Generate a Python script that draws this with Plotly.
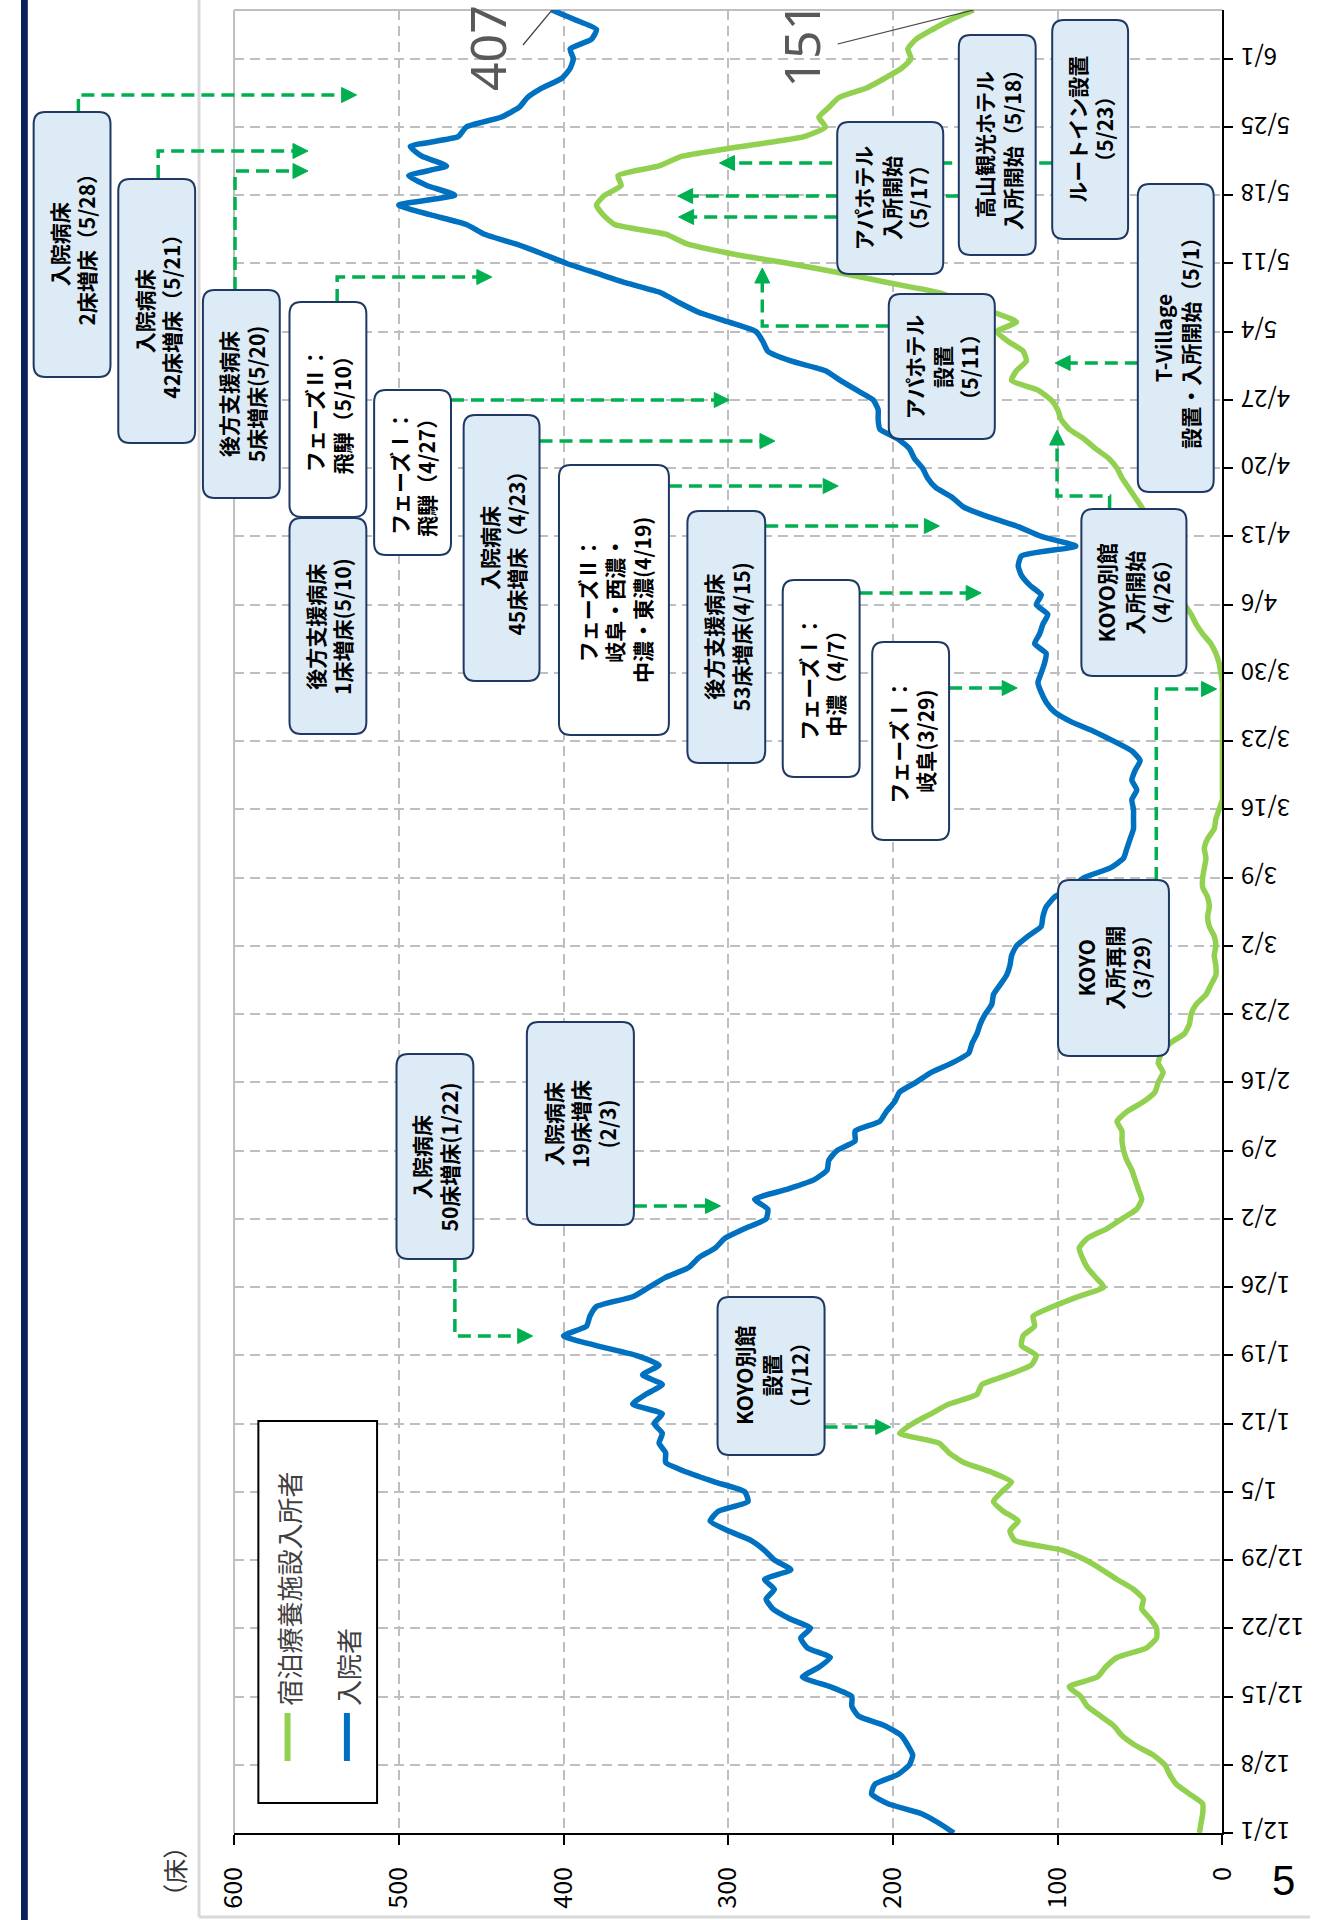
import pandas as pd
import plotly.graph_objects as go

W, H = 1325, 1920

# ---------------- data ----------------
start_date = "2020-12-01"
end_date = "2021-06-06"
dates = pd.date_range(start_date, end_date, freq="D")

# 入院者 (daily, 12/1 .. 6/6)
inpatients = [
    163, 172, 183, 203, 213, 211, 197, 190, 188, 191,
    195, 205, 221, 225, 225, 238, 255, 245, 238, 252,
    256, 250, 263, 273, 277, 272, 278, 262, 272, 278,
    286, 300, 311, 306, 288, 290, 308, 325, 338, 338,
    342, 340, 345, 340, 358, 350, 340, 352, 342, 356,
    380, 400, 386, 384, 380, 358, 348, 338, 324, 318,
    308, 302, 290, 277, 276, 284, 265, 248, 240, 239,
    234, 223, 223, 208, 204, 199, 196, 186, 177, 164,
    154, 152, 149, 147, 144, 140, 139, 135, 131, 129,
    128, 125, 118, 110, 109, 107, 102, 92, 84, 68,
    60, 58, 56, 54, 54, 54, 55, 52, 55, 53,
    50, 55, 66, 78, 92, 102, 107, 110, 112, 110,
    108, 107, 114, 111, 109, 106, 113, 110, 117, 122,
    124, 122, 89, 110, 124, 142, 157, 164, 174, 179,
    182, 187, 190, 197, 208, 209, 209, 212, 222, 232,
    241, 262, 276, 279, 283, 300, 318, 330, 341, 362,
    380, 398, 413, 429, 448, 459, 481, 500, 466, 483,
    494, 471, 486, 493, 464, 459, 438, 427, 422, 413,
    401, 396, 394, 396, 383, 380, 393, 407,
]

# 宿泊療養施設入所者 (daily, 12/1 .. 6/6)
lodging = [
    14, 13, 12, 12, 20, 28, 32, 35, 42, 53,
    61, 66, 74, 82, 86, 93, 76, 71, 64, 46,
    40, 40, 44, 49, 48, 54, 64, 73, 83, 97,
    126, 129, 124, 133, 139, 134, 128, 140, 157, 166,
    172, 196, 188, 177, 166, 149, 146, 130, 116, 113,
    122, 121, 114, 115, 103, 88, 72, 77, 82, 85,
    87, 82, 70, 61, 52, 49, 51, 53, 55, 58,
    60, 61, 61, 64, 58, 48, 41, 39, 36, 39,
    37, 32, 23, 20, 19, 16, 10, 7, 4, 4,
    5, 4, 5, 8, 9, 8, 9, 12, 12, 11,
    10, 11, 9, 5, 4, 2, 0, 0, 0, 0,
    0, 0, 0, 0, 0, 0, 0, 0, 0, 1,
    2, 4, 7, 12, 16, 19, 23, 26, 28, 31,
    34, 35, 37, 40, 43, 46, 49, 53, 57, 61,
    64, 69, 77, 84, 93, 98, 100, 104, 112, 128,
    125, 119, 121, 130, 137, 125, 139, 156, 172, 202,
    231, 263, 298, 325, 338, 369, 376, 380, 375, 365,
    367, 342, 328, 292, 254, 241, 245, 239, 233, 216,
    205, 195, 189, 191, 186, 176, 165, 151,
]

series_names = ["宿泊療養施設入所者", "入院者"]
value_ticks = [0, 100, 200, 300, 400, 500, 600]
date_tick_labels = ["12/1", "12/8", "12/15", "12/22", "12/29", "1/5", "1/12", "1/19",
                    "1/26", "2/2", "2/9", "2/16", "2/23", "3/2", "3/9", "3/16", "3/23",
                    "3/30", "4/6", "4/13", "4/20", "4/27", "5/4", "5/11", "5/18", "5/25", "6/1"]
date_ticks = pd.date_range(start_date, periods=len(date_tick_labels), freq="7D")

# event boxes: text, fill style
event_texts = {
    "A": "入院病床<br>2床増床（5/28）",
    "B": "入院病床<br>42床増床（5/21）",
    "C": "後方支援病床<br>5床増床(5/20)",
    "D": "フェーズⅡ：<br>飛騨（5/10）",
    "E": "後方支援病床<br>1床増床(5/10)",
    "F": "フェーズⅠ：<br>飛騨（4/27）",
    "G": "入院病床<br>45床増床（4/23）",
    "H": "フェーズⅡ：<br>岐阜・西濃・<br>中濃・東濃(4/19)",
    "I": "後方支援病床<br>53床増床(4/15)",
    "J": "フェーズⅠ：<br>中濃（4/7）",
    "K": "フェーズⅠ：<br>岐阜(3/29)",
    "L": "KOYO別館<br>入所開始<br>（4/26）",
    "M": "T-Village<br>設置・入所開始（5/1）",
    "N": "ルートイン設置<br>（5/23）",
    "O": "高山観光ホテル<br>入所開始（5/18）",
    "P": "アパホテル<br>入所開始<br>（5/17）",
    "Q": "アパホテル<br>設置<br>（5/11）",
    "R": "KOYO<br>入所再開<br>（3/29）",
    "S": "入院病床<br>50床増床(1/22)",
    "T": "入院病床<br>19床増床<br>(2/3)",
    "U": "KOYO別館<br>設置<br>（1/12）",
}
white_boxes = {"D", "F", "H", "J", "K"}

# ---------------- layout (pixels -> paper fractions) ----------------
PL, PR, PT, PB = 219, 1235, 10, 1833
FONT = "Noto Sans CJK JP"
GREEN_ARROW = "#00B050"
BLUE = "#0070C0"
LGREEN = "#92D050"
BOX_FILL = "#DDEBF7"
BOX_LINE = "#1F3864"


def px(x):
    return x / W


def py(y):
    return 1 - y / H


box_geom = {
    "A": (13, 112, 92, 377), "B": (100, 179, 179, 443), "C": (187, 290, 266, 498),
    "D": (276, 302, 355, 517), "E": (276, 518, 355, 734), "F": (363, 390, 442, 555),
    "G": (455, 415, 533, 681), "H": (553, 465, 666, 735), "I": (685, 511, 765, 763),
    "J": (783, 580, 862, 777), "K": (875, 642, 954, 840), "L": (1090, 509, 1198, 676),
    "M": (1148, 184, 1226, 492), "N": (1060, 20, 1138, 239), "O": (964, 35, 1043, 255),
    "P": (839, 122, 948, 274), "Q": (892, 294, 1001, 439), "R": (1066, 880, 1180, 1056),
    "S": (386, 1054, 465, 1259), "T": (520, 1022, 630, 1225), "U": (716, 1297, 826, 1455),
}

arrows = [
    ([(59, 112), (59, 95), (345, 95)], "right"),
    ([(141, 178), (141, 151), (295, 151)], "right"),
    ([(220, 290), (220, 171), (295, 171)], "right"),
    ([(325, 302), (325, 277), (484, 277)], "right"),
    ([(442, 400), (728, 400)], "right"),
    ([(533, 441), (775, 441)], "right"),
    ([(666, 486), (840, 486)], "right"),
    ([(765, 526), (944, 526)], "right"),
    ([(862, 593), (987, 593)], "right"),
    ([(954, 688), (1024, 688)], "right"),
    ([(1119, 509), (1119, 496), (1065, 496), (1065, 430)], "up"),
    ([(1148, 363), (1063, 363)], "left"),
    ([(892, 326), (762, 326), (762, 268)], "up"),
    ([(1060, 163), (718, 163)], "left"),
    ([(964, 196), (675, 196)], "left"),
    ([(839, 217), (676, 217)], "left"),
    ([(1167, 880), (1167, 689), (1229, 689)], "right"),
    ([(446, 1259), (446, 1336), (526, 1336)], "right"),
    ([(630, 1206), (719, 1206)], "right"),
    ([(826, 1427), (894, 1427)], "right"),
]

shapes = []
annotations = []

# slide decorations
shapes.append(dict(type="rect", xref="paper", yref="paper", x0=0, x1=px(7), y0=0, y1=1,
                   fillcolor="#0B1F5E", line=dict(width=0), layer="below"))
shapes.append(dict(type="line", xref="paper", yref="paper", x0=px(183), x1=px(183), y0=py(0), y1=py(1917),
                   line=dict(color="#D9D9D9", width=3), layer="below"))
shapes.append(dict(type="line", xref="paper", yref="paper", x0=px(183), x1=1, y0=py(1917), y1=py(1917),
                   line=dict(color="#D9D9D9", width=3), layer="below"))
# plot area border (top / left)
shapes.append(dict(type="line", xref="paper", yref="paper", x0=px(PL), x1=px(PR), y0=py(PT), y1=py(PT),
                   line=dict(color="#BFBFBF", width=2), layer="below"))
shapes.append(dict(type="line", xref="paper", yref="paper", x0=px(PL), x1=px(PL), y0=py(PT), y1=py(PB),
                   line=dict(color="#BFBFBF", width=2), layer="below"))

# arrows
HL, HW = 15, 7.5
for pts, d in arrows:
    lx, ly = pts[-1]
    p2 = list(pts)
    if d == "right":
        p2[-1] = (lx - HL + 2, ly)
        head = f"M 0,0 L {-HL},{HW} L {-HL},{-HW} Z"
    elif d == "left":
        p2[-1] = (lx + HL - 2, ly)
        head = f"M 0,0 L {HL},{HW} L {HL},{-HW} Z"
    else:
        p2[-1] = (lx, ly + HL - 2)
        head = f"M 0,0 L {-HW},{-HL} L {HW},{-HL} Z"
    path = "M " + " L ".join(f"{px(x):.5f},{py(y):.5f}" for x, y in p2)
    shapes.append(dict(type="path", xref="paper", yref="paper", path=path,
                       line=dict(color=GREEN_ARROW, width=3.5, dash="13px,7px"), layer="above"))
    shapes.append(dict(type="path", xref="paper", yref="paper", xsizemode="pixel", ysizemode="pixel",
                       xanchor=px(lx), yanchor=py(ly), path=head, fillcolor=GREEN_ARROW,
                       line=dict(color=GREEN_ARROW, width=1), layer="above"))


def rounded(x0, y0, x1, y1, r=12):
    rx, ry = r / W, r / H
    a, b, c, d = px(x0), px(x1), py(y1), py(y0)   # left, right, bottom, top (paper)
    return (f"M {a + rx:.5f},{d:.5f} L {b - rx:.5f},{d:.5f} Q {b:.5f},{d:.5f} {b:.5f},{d - ry:.5f} "
            f"L {b:.5f},{c + ry:.5f} Q {b:.5f},{c:.5f} {b - rx:.5f},{c:.5f} "
            f"L {a + rx:.5f},{c:.5f} Q {a:.5f},{c:.5f} {a:.5f},{c + ry:.5f} "
            f"L {a:.5f},{d - ry:.5f} Q {a:.5f},{d:.5f} {a + rx:.5f},{d:.5f} Z")


# boxes
for key, (x0, y0, x1, y1) in box_geom.items():
    fill = "white" if key in white_boxes else BOX_FILL
    shapes.append(dict(type="path", xref="paper", yref="paper", path=rounded(x0, y0, x1, y1),
                       fillcolor=fill, line=dict(color=BOX_LINE, width=2), layer="above"))
    annotations.append(dict(xref="paper", yref="paper", x=px((x0 + x1) / 2), y=py((y0 + y1) / 2),
                            text="<b>" + event_texts[key] + "</b>", showarrow=False, textangle=-90,
                            xanchor="center", yanchor="middle", align="center",
                            font=dict(family=FONT, size=21, color="black")))

# legend (drawn manually, rotated)
shapes.append(dict(type="rect", xref="paper", yref="paper", x0=px(244), x1=px(366), y0=py(1803), y1=py(1421),
                   fillcolor="white", line=dict(color="black", width=2), layer="above"))
for xc, col, name in [(274, LGREEN, series_names[0]), (335, BLUE, series_names[1])]:
    shapes.append(dict(type="line", xref="paper", yref="paper", x0=px(xc), x1=px(xc), y0=py(1761), y1=py(1713),
                       line=dict(color=col, width=6), layer="above"))
    annotations.append(dict(xref="paper", yref="paper", x=px(xc), y=py(1708), text=name, showarrow=False,
                            textangle=-90, xanchor="center", yanchor="bottom",
                            font=dict(family=FONT, size=26, color="#404040")))

# date tick labels (upside down)
for d, lab in zip(date_ticks, date_tick_labels):
    annotations.append(dict(xref="paper", yref="y", x=px(1252), y=d, text=lab, showarrow=False,
                            textangle=180, xanchor="left", yanchor="middle",
                            font=dict(family=FONT, size=24, color="black")))

# axis unit, page number
annotations.append(dict(xref="paper", yref="paper", x=px(157), y=py(1871), text="（床）", showarrow=False,
                        textangle=-90, xanchor="center", yanchor="middle",
                        font=dict(family=FONT, size=25, color="#333333")))
annotations.append(dict(xref="paper", yref="paper", x=px(1298), y=py(1880), text="5", showarrow=False,
                        xanchor="center", yanchor="middle",
                        font=dict(family="Liberation Sans", size=42, color="black")))

# end-value labels
for series, dx, dy, lx, ly in [(inpatients, -65, -38, -29, -35), (lodging, -173, -35, -136, -34)]:
    annotations.append(dict(xref="x", yref="y", x=series[-1], y=dates[-1], text=str(series[-1]),
                            showarrow=False, textangle=-90, xshift=dx, yshift=dy,
                            xanchor="center", yanchor="middle",
                            font=dict(family="Noto Sans", size=50, color="#595959")))
    shapes.append(dict(type="path", xref="x", yref="y", xsizemode="pixel", ysizemode="pixel",
                       xanchor=series[-1], yanchor=dates[-1], path=f"M 0,0 L {lx},{ly}",
                       line=dict(color="#404040", width=1.2), layer="above"))

fig = go.Figure()
fig.add_trace(go.Scatter(x=lodging, y=dates, mode="lines", name=series_names[0],
                         line=dict(color=LGREEN, width=5.5, shape="spline", smoothing=0.5)))
fig.add_trace(go.Scatter(x=inpatients, y=dates, mode="lines", name=series_names[1],
                         line=dict(color=BLUE, width=5.5, shape="spline", smoothing=0.5)))

fig.update_layout(
    width=W, height=H, margin=dict(l=0, r=0, t=0, b=0),
    paper_bgcolor="white", plot_bgcolor="white", showlegend=False,
    xaxis=dict(domain=[px(PL), px(PR)], range=[600, 0], tickvals=value_ticks,
               tickangle=-90, ticks="outside", ticklen=10, tickwidth=2, tickcolor="black",
               showline=True, linecolor="black", linewidth=2, zeroline=False,
               showgrid=True, gridcolor="#BFBFBF", gridwidth=2, griddash="10px,6px",
               tickfont=dict(family=FONT, size=25, color="black"), ticklabelstandoff=12),
    yaxis=dict(domain=[py(PB), py(PT)], type="date", range=[start_date, end_date],
               tick0=start_date, dtick=7 * 86400000, side="right",
               ticks="outside", ticklen=9, tickwidth=2, tickcolor="black",
               showline=True, linecolor="black", linewidth=2, zeroline=False,
               showgrid=True, gridcolor="#BFBFBF", gridwidth=2, griddash="10px,6px",
               showticklabels=False),
    shapes=shapes, annotations=annotations,
)

fig.write_html("out.html", config={"responsive": False, "displayModeBar": False},
               post_script="document.body.style.margin='0px';document.body.style.overflow='hidden';")
